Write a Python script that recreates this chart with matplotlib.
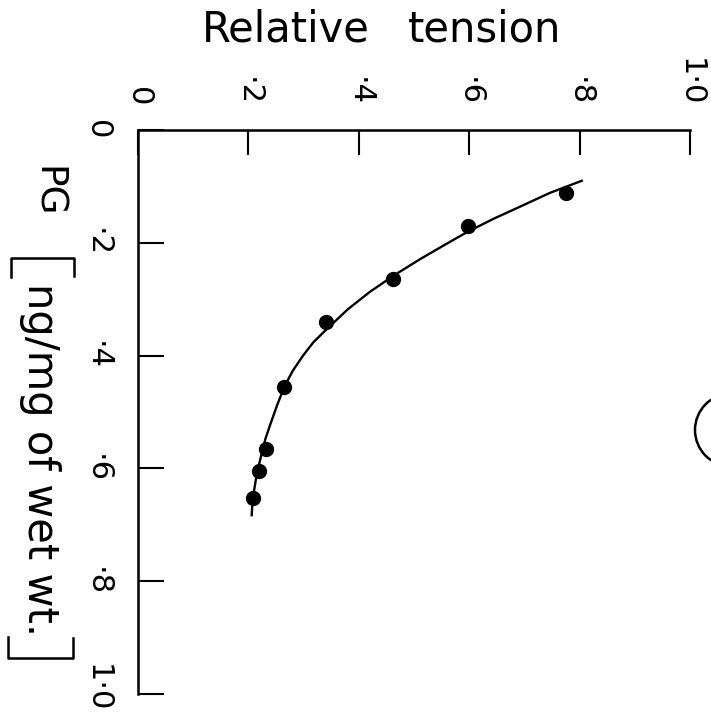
import matplotlib.pyplot as plt
from matplotlib.lines import Line2D
from matplotlib.patches import Circle
from matplotlib.transforms import ScaledTranslation

tension_pts = [0.775, 0.598, 0.462, 0.341, 0.264, 0.232, 0.219, 0.208]
pg_pts = [0.111, 0.171, 0.265, 0.340, 0.455, 0.566, 0.605, 0.653]

curve_tension = [0.804, 0.745, 0.692, 0.645, 0.598, 0.555, 0.511, 0.465, 0.420,
                 0.380, 0.342, 0.318, 0.299, 0.281, 0.266, 0.252, 0.239, 0.231,
                 0.225, 0.219, 0.214, 0.210, 0.207, 0.206]
curve_pg = [0.090, 0.112, 0.136, 0.157, 0.180, 0.204, 0.229, 0.257, 0.287,
            0.318, 0.353, 0.376, 0.400, 0.426, 0.453, 0.488, 0.524, 0.547,
            0.570, 0.594, 0.617, 0.641, 0.665, 0.683]

ticks = [0, 0.2, 0.4, 0.6, 0.8, 1.0]
tick_labels = ["0", "·2", "·4", "·6", "·8", "1·0"]

W, H = 711, 717
fig = plt.figure(figsize=(W / 100, H / 100), dpi=100)
ax = fig.add_axes([138 / W, 1 - 694 / H, (690 - 138) / W, (694 - 130) / H])

ax.plot(curve_tension, curve_pg, color="black", lw=1.7)
ax.plot(tension_pts, pg_pts, "o", color="black", ms=10)

ax.set_xlim(0, 1.0)
ax.set_ylim(1.0, 0)
for s in ("right", "bottom"):
    ax.spines[s].set_visible(False)
for s in ("left", "top"):
    ax.spines[s].set_linewidth(1.8)

ax.xaxis.tick_top()
ax.set_xticks(ticks)
ax.set_xticklabels(tick_labels, rotation=-90, fontsize=22)
ax.set_yticks(ticks)
ax.set_yticklabels(tick_labels, rotation=-90, fontsize=22, va="center")
ax.tick_params(axis="x", direction="in", length=18, width=1.5, pad=17)
ax.tick_params(axis="y", direction="in", length=19, width=1.5, pad=19)

# last PG label sits a little above its tick in the reference
last = ax.get_yticklabels()[-1]
last.set_transform(last.get_transform()
                   + ScaledTranslation(0, 6 / 100, fig.dpi_scale_trans))

# titles
fig.text(286 / W, 1 - 30 / H, "Relative", fontsize=30, ha="center", va="center")
fig.text(485 / W, 1 - 30 / H, "tension", fontsize=30, ha="center", va="center")
fig.text(47 / W, 1 - 192 / H, "PG", fontsize=27, rotation=-90,
         ha="center", va="center")
fig.text(40 / W, 1 - 460 / H, "ng/mg of wet wt.", fontsize=30, rotation=-90,
         ha="center", va="center")


def px(xs, ys):
    return Line2D([x / W for x in xs], [1 - y / H for y in ys],
                  transform=fig.transFigure, color="black", lw=1.8)


# brackets around the unit
fig.add_artist(px([11, 11, 74, 74], [277, 258, 258, 276]))
fig.add_artist(px([8, 8, 73, 73], [637, 658, 658, 638]))

# circled panel mark, cut by the right edge
fig.add_artist(Circle((731 / W, 1 - 430 / H), 36 / W, transform=fig.transFigure,
                      fill=False, lw=1.8, color="black"))

fig.savefig("out.png", dpi=100)
